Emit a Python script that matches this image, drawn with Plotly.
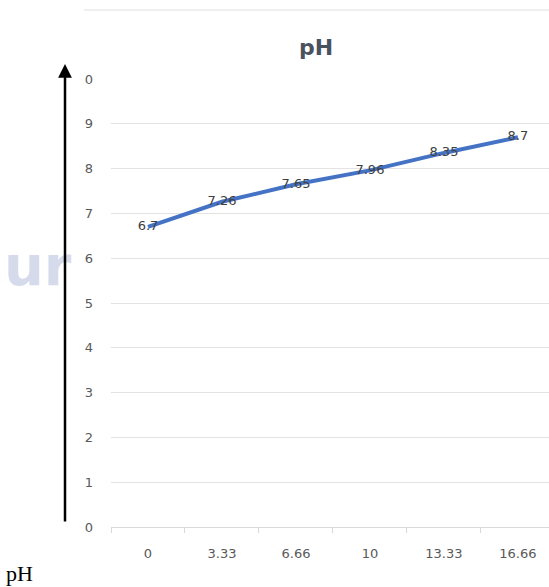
import plotly.graph_objects as go

categories = ["0", "3.33", "6.66", "10", "13.33", "16.66"]
ph_values = [6.7, 7.26, 7.65, 7.96, 8.35, 8.7]
y_tick_vals = [0, 1, 2, 3, 4, 5, 6, 7, 8, 9, 10]
y_tick_text = ["0", "1", "2", "3", "4", "5", "6", "7", "8", "9", "0"]

xpos = list(range(len(categories)))

W, H = 549, 587
L, T, B = 111, 79, 60
PW, PH = W - L, H - T - B
FONT = "DejaVu Sans, Verdana, sans-serif"


def px(x):
    return (x - L) / PW


def py(y):
    return (H - B - y) / PH


fig = go.Figure()
fig.add_trace(go.Scatter(
    x=xpos, y=ph_values, mode="lines+text",
    line=dict(color="#4472C4", width=4),
    text=[str(v) for v in ph_values], textposition="middle center",
    textfont=dict(family=FONT, size=13, color="#404040"),
    showlegend=False, cliponaxis=False,
))

fig.update_layout(
    width=W, height=H,
    margin=dict(l=L, r=0, t=T, b=B),
    paper_bgcolor="white", plot_bgcolor="white",
    title=dict(text="<b>pH</b>", x=316 / W, xanchor="center", y=1 - 47 / H, yanchor="middle",
               font=dict(family=FONT, size=22, color="#4a5260")),
    xaxis=dict(
        range=[-0.5, 5.42], tickmode="array", tickvals=xpos, ticktext=categories,
        showgrid=False, zeroline=False, showline=True, linecolor="#d9d9d9", linewidth=1,
        ticks="", ticklabelstandoff=14,
        tickfont=dict(family=FONT, size=13, color="#595959"),
        minor=dict(tickmode="array", tickvals=[-0.5, 0.5, 1.5, 2.5, 3.5, 4.5],
                   ticks="outside", ticklen=5, tickcolor="#d9d9d9", showgrid=False),
    ),
    yaxis=dict(
        range=[0, 10], tickmode="array", tickvals=y_tick_vals, ticktext=y_tick_text,
        showgrid=True, gridcolor="#e3e3e3", gridwidth=1, zeroline=False, showline=False,
        ticks="", ticklabelstandoff=17,
        tickfont=dict(family=FONT, size=13, color="#595959"),
    ),
)

# faint watermark fragment
fig.add_annotation(xref="paper", yref="paper", x=px(2), y=py(265), text="<b>ur</b>",
                   showarrow=False, xanchor="left", yanchor="middle",
                   font=dict(family="DejaVu Sans", size=56, color="rgba(150,165,205,0.4)"))

# chart border top line
fig.add_shape(type="line", xref="paper", yref="paper", x0=px(84), x1=1,
              y0=py(10), y1=py(10), line=dict(color="#e0e0e0", width=1))

# vertical arrow
fig.add_annotation(xref="paper", yref="paper", x=px(65), y=py(64),
                   ax=0, ay=523 - 64, axref="pixel", ayref="pixel",
                   showarrow=True, arrowhead=2, arrowsize=1.1, arrowwidth=2.5,
                   arrowcolor="black", text="")

# pH label bottom-left
fig.add_annotation(xref="paper", yref="paper", x=px(4), y=py(573), text="pH",
                   showarrow=False, xanchor="left", yanchor="middle",
                   font=dict(family="Liberation Serif, serif", size=22, color="black"))

fig.write_html("out.html", config={"displayModeBar": False},
               post_script="document.body.style.margin='0';")
